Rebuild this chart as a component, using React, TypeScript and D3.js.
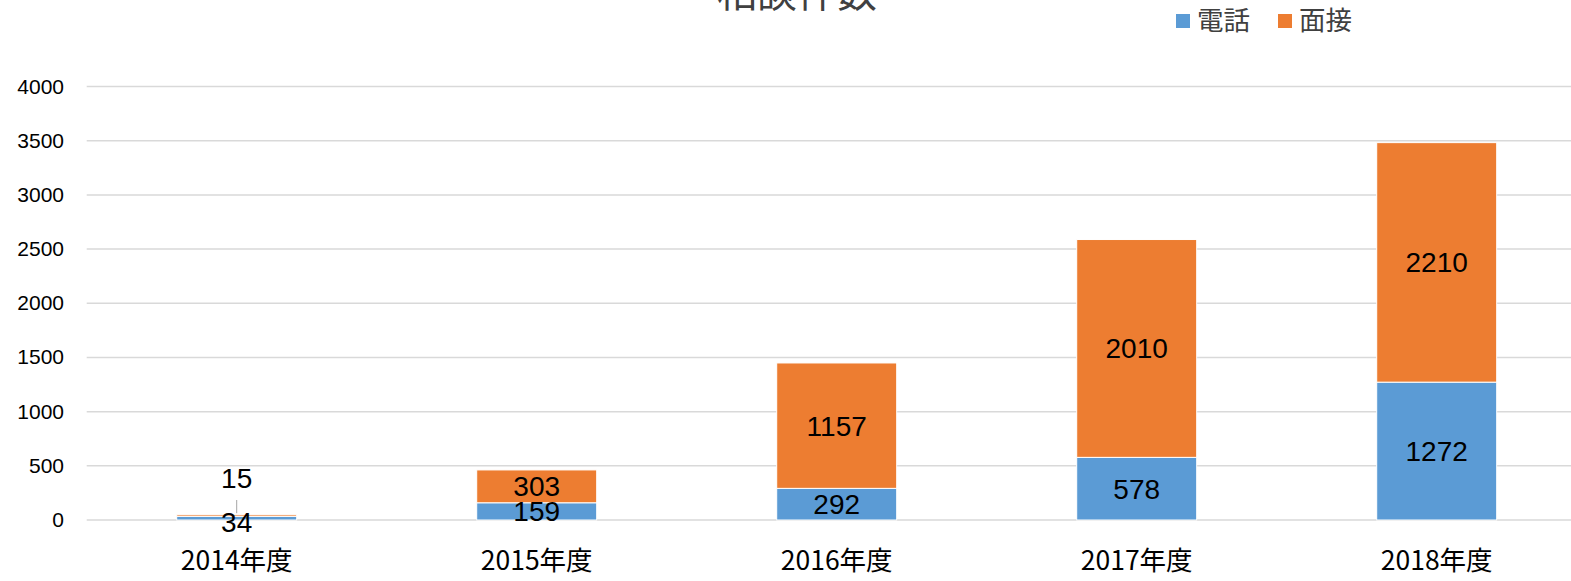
import React from "react";
import * as d3 from "d3";

const categories = ["2014年度", "2015年度", "2016年度", "2017年度", "2018年度"];
const phoneValues = [34, 159, 292, 578, 1272];
const visitValues = [15, 303, 1157, 2010, 2210];
const yTicks = [0, 500, 1000, 1500, 2000, 2500, 3000, 3500, 4000];
const seriesNames = ["電話", "面接"];
const seriesColors = ["#5B9BD5", "#ED7D31"];
const titleText = "相談件数";

const W = 1571;
const H = 581;
const plotLeft = 86.7;
const plotRight = 1586.7;
const yZero = 520;
const yTop = 86.5;

const LATIN = "'Liberation Sans', 'Noto Sans CJK JP', sans-serif";
const CJK = "'Noto Sans CJK JP', 'Liberation Sans', sans-serif";

export default function App() {
  const x = d3
    .scaleBand<string>()
    .domain(categories)
    .range([plotLeft, plotRight])
    .paddingInner(0.6)
    .paddingOuter(0.3);
  const y = d3.scaleLinear().domain([0, 4000]).range([yZero, yTop]);

  const rows = categories.map((c, i) => ({ cat: c, phone: phoneValues[i], visit: visitValues[i] }));
  const stack = d3.stack<any>().keys(["phone", "visit"])(rows);

  const bw = x.bandwidth();

  return (
    <svg
      width={W}
      height={H}
      style={{ position: "absolute", left: 0, top: 0, background: "#fff" }}
    >
      <text x={797} y={7} textAnchor="middle" fontFamily={CJK} fontSize={40} fill="#404040">
        {titleText}
      </text>

      {seriesNames.map((n, i) => {
        const lx = 1176 + i * 102;
        return (
          <g key={n}>
            <rect x={lx} y={14} width={14} height={14} fill={seriesColors[i]} />
            <text x={lx + 21} y={30} fontFamily={CJK} fontSize={26.5} fill="#404040">
              {n}
            </text>
          </g>
        );
      })}

      {yTicks.map((t) => (
        <line
          key={t}
          x1={plotLeft}
          x2={W}
          y1={y(t)}
          y2={y(t)}
          stroke="#D9D9D9"
          strokeWidth={1.5}
        />
      ))}

      {yTicks.map((t) => (
        <text
          key={"l" + t}
          x={64}
          y={y(t) + 7}
          textAnchor="end"
          fontFamily={LATIN}
          fontSize={21}
          fill="#000"
        >
          {t}
        </text>
      ))}

      {stack.map((s, si) => (
        <g key={si}>
          {s.map((d, i) => (
            <rect
              key={i}
              x={x(categories[i])!}
              width={bw}
              y={y(d[1])}
              height={Math.max(0, y(d[0]) - y(d[1]))}
              fill={seriesColors[si]}
              stroke="#fff"
              strokeWidth={1}
            />
          ))}
        </g>
      ))}

      {stack.map((s, si) =>
        s.map((d, i) => {
          const cx = x(categories[i])! + bw / 2;
          const mid = (y(d[0]) + y(d[1])) / 2;
          const small = y(d[0]) - y(d[1]) < 10;
          let cy = mid;
          let leader = null as any;
          if (small && si === 1) {
            cy = mid - 37.5;
            leader = (
              <line x1={cx} x2={cx} y1={cy + 22} y2={y(d[1]) - 1.5} stroke="#A6A6A6" strokeWidth={1} />
            );
          } else if (small && si === 0) {
            cy = mid + 4;
          }
          const v = si === 0 ? phoneValues[i] : visitValues[i];
          return (
            <g key={si + "-" + i}>
              {leader}
              <text
                x={cx}
                y={cy + 10}
                textAnchor="middle"
                fontFamily={LATIN}
                fontSize={28}
                fill="#000"
              >
                {v}
              </text>
            </g>
          );
        })
      )}

      {categories.map((c) => (
        <text
          key={c}
          x={x(c)! + bw / 2}
          y={570}
          textAnchor="middle"
          fontFamily={CJK}
          fontSize={26.5}
          fill="#000"
        >
          {c}
        </text>
      ))}
    </svg>
  );
}
